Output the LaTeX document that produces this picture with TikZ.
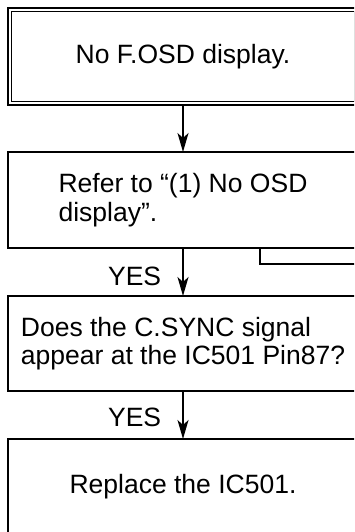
\documentclass[tikz,border=0pt]{standalone}
\usepackage{fontspec}
\setmainfont{Liberation Sans}
\usetikzlibrary{arrows.meta, calc}

\begin{document}
\begin{tikzpicture}[x=1pt, y=1pt,
    box/.style={draw, line width=1.6pt, outer sep=0pt, minimum width=350pt, minimum height=96pt, inner sep=0pt, font=\fontsize{26.5}{28.5}\selectfont},
    flow/.style={line width=1.7pt, -{Stealth[length=19pt, width=11pt, inset=5pt]}},
    yes/.style={inner sep=0pt, font=\fontsize{26.5}{28.5}\selectfont}]

\clip (0,0) rectangle (354,-532);

% Boxes
\node[box, line width=2pt, minimum height=97pt] (nodisp) at (183,-56.5) {No F.OSD display.};
\draw[line width=1pt] ([shift={(3.5,-3.5)}]nodisp.north west) rectangle ([shift={(-3.5,3.5)}]nodisp.south east);
\node[box, align=left] (refer) at (183,-200) {Refer to “(1) No OSD\\display”.};
\node[box, align=left, minimum height=95pt] (csync) at (183,-343.5) {Does the C.SYNC signal\\appear at the IC501 Pin87?};
\node[box] (replace) at (183,-487) {Replace the IC501.};

% Arrows
\draw[flow] (nodisp.south) -- (refer.north);
\draw[flow] (refer.south) -- node[yes, pos=0.6, left=21pt] (yes1) {YES} (csync.north);
\draw[flow] (csync.south) -- node[yes, pos=0.55, left=21pt] (yes2) {YES} (replace.north);

% Branch to the right
\coordinate (exit) at ($(refer.south)+(200,-16)$);
\draw[line width=1.6pt] ([xshift=77pt]refer.south) |- (exit);

\end{tikzpicture}
\end{document}
